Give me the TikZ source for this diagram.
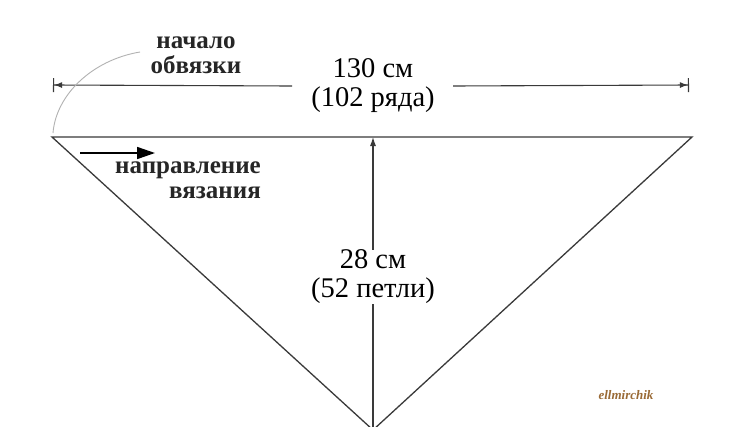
\documentclass[tikz,border=0pt]{standalone}
\usepackage{fontspec}
\setmainfont{Liberation Serif}
\usetikzlibrary{arrows.meta}
\definecolor{ink}{HTML}{3A3A3A}
\definecolor{wm}{HTML}{9A6A35}
\begin{document}
\begin{tikzpicture}[x=1pt,y=-1pt,
  edge/.style={draw=ink,line width=1.3pt},
  dim/.style={draw=ink,line width=1.1pt},
  lbl/.style={font=\fontsize{28.5}{29}\selectfont,text=black,inner sep=0pt,align=center},
  note/.style={font=\bfseries\fontsize{25}{25}\selectfont,text=black!85,inner sep=0pt}]
\useasboundingbox[fill=white] (0,0) rectangle (750,426);
% triangle corners
\coordinate (L) at (52,137);
\coordinate (R) at (692,137);
\coordinate (B) at (373,430);
\coordinate (M) at (373,137);
\draw[edge] (L) -- (R) -- (B) -- cycle;
% width dimension
\coordinate (DL) at (53,85);
\coordinate (DR) at (689,85);
\node[lbl] (w) at (373,86) {130 см\\(102 ряда)};
\draw[dim,arrows={{Bar[width=14pt,line width=1.1pt]Latex[length=8pt,width=6pt]}-}] (DL) -- (w.west -| 292,85);
\draw[dim,arrows={-{Latex[length=8pt,width=6pt]Bar[width=14pt,line width=1.1pt]}}] (w.east -| 453,85) -- (DR);
% height dimension
\node[lbl] (h) at (373,277) {28 см\\(52 петли)};
\draw[dim,arrows={-{Latex[length=9pt,width=6pt]}}] (h.north -| 373,243) -- (M);
\draw[dim] (h.south -| 373,307) -- (B);
% start of edging
\node[note,align=center] (start) at (196,55) {начало\\обвязки};
\draw[gray!60,line width=0.9pt] (L) ++(1,-4) .. controls (56,95) and (92,60) .. (140,52);
% knitting direction
\coordinate (A1) at (80,153);
\coordinate (A2) at (155,153);
\draw[draw=black,line width=1.6pt,arrows={-{Triangle[length=18pt,width=12pt]}}] (A1) -- (A2);
\node[note,align=right,anchor=north east] (dir) at (261,162) {направление\\вязания};
% watermark
\node[font=\bfseries\itshape\fontsize{13}{13}\selectfont,text=wm,inner sep=0pt] (wmark) at (626,395) {ellmirchik};
\end{tikzpicture}
\end{document}
